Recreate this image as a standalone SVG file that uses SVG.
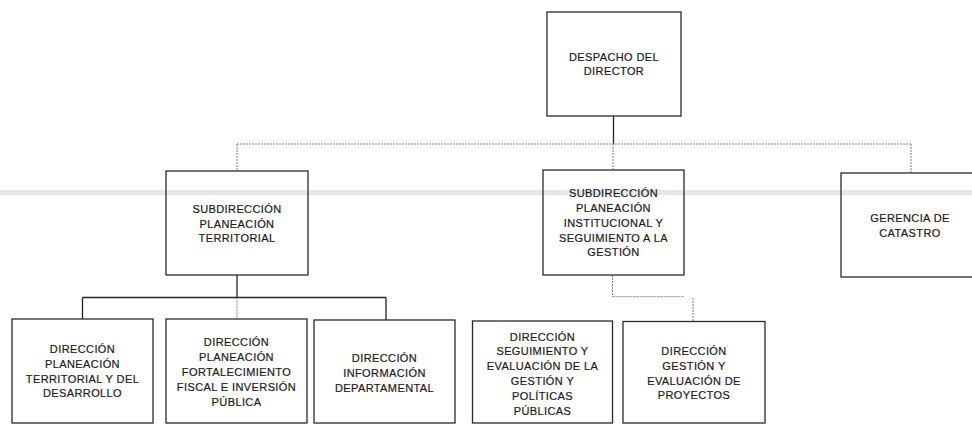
<svg xmlns="http://www.w3.org/2000/svg" width="972" height="424" viewBox="0 0 972 424">
<style>
.box{fill:none;stroke:#2a2a2a;stroke-width:1.3}
.t{font-family:"Liberation Sans",Arial,sans-serif;font-size:11px;fill:#1a1a1a;stroke:#1a1a1a;stroke-width:0.2;text-anchor:middle;letter-spacing:0.4px}
.solid{fill:none;stroke:#222;stroke-width:1.3}
.dot{fill:none;stroke:#808080;stroke-width:1;stroke-dasharray:2 1}
</style>
<rect x="0" y="190" width="972" height="5" fill="#e6e6e6"/>
<g id="connectors">
<line class="solid" x1="613.5" y1="116" x2="613.5" y2="144"/>
<line class="dot" x1="237" y1="144" x2="911" y2="144"/>
<line class="dot" x1="237" y1="144" x2="237" y2="171"/>
<line class="dot" x1="613" y1="144" x2="613" y2="170"/>
<line class="dot" x1="911" y1="144" x2="911" y2="173"/>
<line class="solid" x1="237" y1="275" x2="237" y2="297.5"/>
<line class="solid" x1="82.5" y1="297.5" x2="386" y2="297.5"/>
<line class="solid" x1="82.5" y1="297.5" x2="82.5" y2="319"/>
<line class="solid" x1="386" y1="297.5" x2="386" y2="320"/>
<line class="dot" x1="237" y1="297.5" x2="237" y2="319"/>
<line class="dot" x1="612.5" y1="275" x2="612.5" y2="296.7"/>
<line class="dot" x1="612.5" y1="296.7" x2="684" y2="296.7"/>
<line class="dot" x1="693" y1="298" x2="693" y2="321.5"/>
</g>
<g id="despacho">
<rect class="box" x="547" y="12" width="134" height="104"/>
<text class="t" x="614" y="61">DESPACHO DEL</text>
<text class="t" x="614" y="75">DIRECTOR</text>
</g>
<g id="sub-territorial">
<rect class="box" x="166" y="171" width="142" height="104"/>
<text class="t" x="237" y="213">SUBDIRECCIÓN</text>
<text class="t" x="237" y="227.5">PLANEACIÓN</text>
<text class="t" x="237" y="242">TERRITORIAL</text>
</g>
<g id="sub-institucional">
<rect class="box" x="543" y="170" width="141" height="105"/>
<text class="t" x="613.5" y="197">SUBDIRECCIÓN</text>
<text class="t" x="613.5" y="212">PLANEACIÓN</text>
<text class="t" x="613.5" y="227">INSTITUCIONAL Y</text>
<text class="t" x="613.5" y="241.5">SEGUIMIENTO A LA</text>
<text class="t" x="613.5" y="256">GESTIÓN</text>
</g>
<g id="gerencia">
<rect class="box" x="841" y="173" width="140" height="104"/>
<text class="t" x="910" y="222">GERENCIA DE</text>
<text class="t" x="910" y="236.5">CATASTRO</text>
</g>
<g id="dir-territorial">
<rect class="box" x="12" y="319" width="141" height="104"/>
<text class="t" x="82.5" y="353">DIRECCIÓN</text>
<text class="t" x="82.5" y="368">PLANEACIÓN</text>
<text class="t" x="82.5" y="382.5">TERRITORIAL Y DEL</text>
<text class="t" x="82.5" y="397">DESARROLLO</text>
</g>
<g id="dir-fiscal">
<rect class="box" x="166" y="319" width="141" height="104"/>
<text class="t" x="236.5" y="346">DIRECCIÓN</text>
<text class="t" x="236.5" y="361">PLANEACIÓN</text>
<text class="t" x="236.5" y="376">FORTALECIMIENTO</text>
<text class="t" x="236.5" y="391">FISCAL E INVERSIÓN</text>
<text class="t" x="236.5" y="405.5">PÚBLICA</text>
</g>
<g id="dir-informacion">
<rect class="box" x="314" y="320" width="141" height="103"/>
<text class="t" x="384.5" y="362">DIRECCIÓN</text>
<text class="t" x="384.5" y="377">INFORMACIÓN</text>
<text class="t" x="384.5" y="391.5">DEPARTAMENTAL</text>
</g>
<g id="dir-seguimiento">
<rect class="box" x="472.5" y="321" width="140" height="102"/>
<text class="t" x="542.5" y="340.5">DIRECCIÓN</text>
<text class="t" x="542.5" y="355">SEGUIMIENTO Y</text>
<text class="t" x="542.5" y="370">EVALUACIÓN DE LA</text>
<text class="t" x="542.5" y="385">GESTIÓN Y</text>
<text class="t" x="542.5" y="399.5">POLÍTICAS</text>
<text class="t" x="542.5" y="414.5">PÚBLICAS</text>
</g>
<g id="dir-proyectos">
<rect class="box" x="623" y="321.5" width="142" height="101.5"/>
<text class="t" x="694" y="354.5">DIRECCIÓN</text>
<text class="t" x="694" y="369.5">GESTIÓN Y</text>
<text class="t" x="694" y="384.5">EVALUACIÓN DE</text>
<text class="t" x="694" y="399">PROYECTOS</text>
</g>
</svg>
